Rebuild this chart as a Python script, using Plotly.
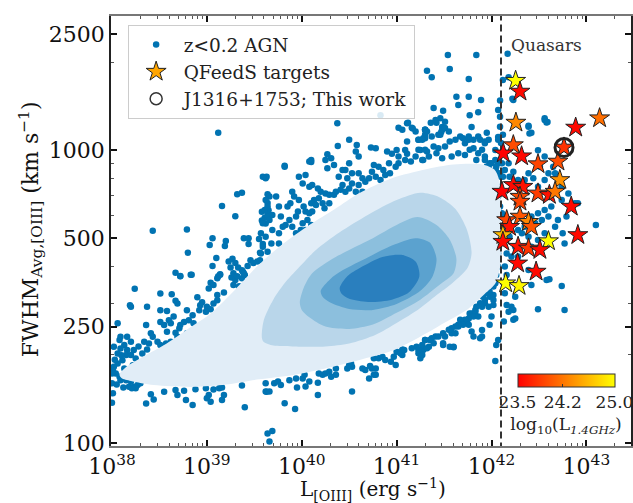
import numpy as np
import plotly.graph_objects as go

# ---------------- data (log10 L[OIII] in erg/s, log10 FWHM in km/s) ----------------
agn_left = [(38.06,2.409),(38.08,2.352),(38.13,2.335),(38.09,2.323),(38.16,2.318),(38.15,2.301),(38.20,2.301),
    (38.23,2.318),(38.25,2.289),(38.22,2.266),(38.11,2.283),(38.06,2.272),(38.02,2.261),(38.01,2.249),(38.04,2.238),
    (38.08,2.227),(38.09,2.215),(38.15,2.215),(38.20,2.21),(38.23,2.192),(38.27,2.198),(38.30,2.204),(38.25,2.187),
    (38.13,2.255),(38.18,2.249),(38.06,2.306),(38.02,2.329),(38.09,2.363),(38.20,2.346),(38.16,2.363),(38.00,2.238),
    (38.00,2.138),(38.01,2.17),(38.00,2.204),(38.05,2.20),(38.12,2.19),(38.03,2.285),(38.10,2.30),(38.28,2.33)]

agn_upper_left = [(38.67,2.582),(38.83,2.575),(38.72,2.571),(39.14,2.577),(39.11,2.563),(39.26,2.566),(39.30,2.557),
    (39.28,2.54),(39.34,2.536),(39.37,2.563),(39.40,2.574),(39.38,2.585),(39.04,2.548),(39.07,2.54),(39.02,2.528),
    (39.11,2.506),(39.18,2.514),(38.24,2.527),(38.51,2.511),(38.63,2.508),(38.67,2.486),(38.69,2.477),(38.90,2.498),
    (38.95,2.481),(39.00,2.466),(39.04,2.457),(38.93,2.471),(39.07,2.477),(39.11,2.488),(38.19,2.471),(38.20,2.466),
    (38.37,2.466),(38.51,2.454),(38.58,2.451),(38.65,2.432),(38.60,2.42),(38.51,2.414),(38.55,2.403),(38.62,2.409),
    (38.67,2.377),(38.58,2.38),(38.71,2.392),(38.76,2.414),(38.81,2.42),(38.85,2.437),(38.86,2.409),(38.88,2.397),
    (38.83,2.38),(38.79,2.375),(38.72,2.403),(38.36,2.403),(38.41,2.375),(38.34,2.346),(38.37,2.32),(38.32,2.306),
    (38.39,2.34),(38.43,2.363),(38.48,2.346),(38.51,2.335),(38.57,2.34),(38.62,2.346),(38.69,2.363),(38.92,2.454),
    (38.99,2.449),(38.79,2.454)]

agn_upper_mid = [(39.12,3.06),(39.62,2.905),(39.32,2.85),(39.37,2.855),(39.16,2.81),(39.30,2.775),(39.64,2.85),
    (39.64,2.82),(39.58,2.79),(39.61,2.77),(39.64,2.78),(39.62,2.75),(39.58,2.76),(39.65,2.795),(38.43,2.725),
    (38.79,2.73),(38.80,2.65),(39.06,2.70),(39.03,2.677),(39.20,2.69),(39.19,2.673),(39.10,2.632),(39.06,2.605),
    (39.39,2.70),(39.44,2.70),(39.44,2.68),(39.55,2.697),(39.59,2.68),(39.56,2.65),(39.23,2.62),(39.27,2.63),
    (39.30,2.615),(39.33,2.60),(39.37,2.59),(39.43,2.605),(39.46,2.625),(39.49,2.615),(39.53,2.62),(39.56,2.625),
    (39.25,2.60),(39.28,2.58),(39.32,2.57),(39.39,2.58),(39.14,2.575),(38.72,2.57),(38.84,2.575),(39.12,2.57),
    (39.82,2.947),(39.63,2.91),(40.10,2.96)]

agn_upper_band = [(40.375,3.093),(41.11,3.093),(41.06,3.07),(41.17,3.075),(41.30,3.07),(40.50,3.036),(40.38,3.015),
    (40.58,3.018),(40.57,2.996),(40.60,2.979),(40.73,3.01),(40.78,3.007),(41.11,3.03),(41.23,3.036),(41.28,3.041),
    (40.90,2.996),(40.95,2.988),(41.0,3.001),(41.02,2.979),(41.09,3.001),(41.11,2.988),(41.20,2.979),(41.25,3.001),
    (41.28,2.967),(41.32,2.996),(41.15,2.962),(41.09,2.967),(41.02,2.956),(40.27,2.987),(40.31,2.973),(40.25,2.967),
    (40.34,2.95),(40.27,2.939),(40.08,2.962),(40.10,2.967),(39.82,2.944),(40.46,2.933),(40.43,2.933),(40.50,2.956),
    (40.39,2.91),(40.48,2.905),(40.53,2.922),(40.60,2.922),(40.64,2.905),(40.67,2.893),(40.74,2.927),(40.76,2.95),
    (40.81,2.944),(40.86,2.933),(40.92,2.956),(40.93,2.922),(40.99,2.944),(40.88,2.916),(40.83,2.899),(40.78,2.91),
    (40.71,2.905),(40.60,2.882),(40.53,2.887),(40.50,2.87),(40.43,2.882),(40.57,2.859),(40.64,2.859),(39.97,2.91),
    (40.04,2.916),(40.01,2.887),(40.08,2.876),(40.11,2.882),(40.17,2.87),(40.20,2.859),(40.25,2.853),(40.29,2.848),
    (40.34,2.848),(40.18,2.836),(40.13,2.83),(40.10,2.819),(40.15,2.813),(40.22,2.819),(40.24,2.802),(40.29,2.819),
    (40.36,2.859),(40.41,2.865),(40.46,2.859),(39.90,2.859),(39.92,2.842),(39.88,2.819),(39.97,2.83),(40.02,2.808),
    (40.04,2.791),(39.96,2.791),(39.94,2.774),(39.85,2.808),(39.76,2.808),(39.73,2.842),(39.66,2.842),(39.62,2.83),
    (39.64,2.808),(39.61,2.796),(39.69,2.779),(39.78,2.774),(39.66,2.762),(39.59,2.751),(39.57,2.717),(39.62,2.705),
    (39.69,2.728),(39.76,2.717),(39.80,2.739),(39.83,2.745),(39.87,2.762),(39.90,2.739),(39.94,2.717),(39.99,2.728),
    (40.01,2.751),(40.06,2.762),(40.08,2.785),(40.11,2.791),(39.76,2.682),(39.68,2.682),(39.59,2.671),(39.57,2.648),
    (39.64,2.654),(39.97,2.70),(40.04,2.728),(40.10,2.745),(39.59,2.91),(41.30,3.053),(41.32,3.064),(41.20,3.064)]

agn_upper_right = [(41.54,3.326),(41.84,3.326),(42.17,3.33),(41.32,3.272),(41.56,3.278),(41.37,3.25),(41.76,3.244),
    (41.63,3.183),(41.76,3.183),(41.89,3.172),(40.83,3.12),(41.39,3.145),(41.49,3.135),(41.65,3.155),(41.77,3.12),
    (41.86,3.13),(42.07,3.138),(41.02,3.077),(41.12,3.094),(41.16,3.077),(41.30,3.07),(41.36,3.094),(41.42,3.094),
    (41.48,3.08),(41.47,3.063),(41.46,3.053),(41.79,3.08),(41.95,3.06),(42.07,3.046),(42.10,3.025),(42.09,3.17),
    (41.23,3.036),(41.30,3.041),(41.37,3.047),(41.44,3.053),(41.48,3.07),(41.51,3.076),(41.55,3.064),(41.41,3.104),
    (41.46,3.11),(41.51,3.098),(41.30,3.07),(41.27,3.036),(41.23,3.002),(41.30,3.002),(41.39,3.013),(41.44,3.007),
    (41.51,3.013),(41.56,3.03),(41.62,3.036),(41.67,3.047),(41.70,3.041),(41.72,3.024),(41.76,3.036),(41.81,3.036),
    (41.86,3.047),(41.88,3.036),(41.93,3.03),(41.97,3.036),(41.76,3.047),(41.81,3.007),(41.86,2.99),(41.93,2.979),
    (41.98,2.956),(42.04,2.967),(42.07,2.956),(42.05,2.927),(42.07,3.036),(42.09,3.115),(42.09,3.081),(42.11,2.956),
    (42.09,2.922),(42.12,2.91),(42.04,2.899),(42.07,2.876),(42.05,2.842),(42.09,2.808),(42.07,2.785),(42.11,2.74),
    (42.09,2.694),(42.07,2.648),(41.27,2.967),(41.34,2.979),(41.42,2.99),(41.48,2.973),(41.58,2.979),(41.65,2.99),
    (41.72,2.984),(41.77,3.002),(41.90,3.002),(41.84,2.967),(41.95,2.945),(42.0,2.922)]

agn_quasar = [(42.12,3.24),(42.23,3.172),(42.39,3.081),(42.40,3.058),(42.56,3.104),(42.58,3.095),(42.49,3.0),
    (42.56,2.979),(42.51,2.944),(42.12,3.053),(41.93,3.024),(42.04,3.001),(41.93,2.967),(42.0,2.956),(41.97,2.944),
    (42.05,2.944),(42.14,2.933),(42.18,2.956),(42.23,2.927),(42.19,2.91),(42.28,2.899),(42.35,2.899),(42.39,2.922),
    (42.44,2.905),(42.49,2.876),(42.56,2.899),(42.60,2.922),(42.65,2.944),(42.67,2.922),(42.74,2.876),(42.81,2.853),
    (42.74,2.83),(42.63,2.808),(42.56,2.796),(42.49,2.785),(42.42,2.774),(42.53,2.762),(42.46,2.751),(42.35,2.739),
    (42.28,2.728),(42.32,2.717),(42.39,2.705),(42.19,2.705),(42.25,2.671),(42.16,2.648),(42.21,2.637),(42.28,2.637),
    (42.42,2.671),(42.49,2.694),(42.56,2.717),(42.67,2.739),(42.77,2.682),(42.88,2.819),(42.91,2.819),(43.10,2.745),
    (42.79,2.774),(42.70,2.762),(42.60,2.774),(42.04,2.887),(42.07,2.91),(41.98,2.916),(42.04,2.933),(42.07,2.842),
    (42.07,2.808),(42.11,2.785),(42.14,2.774),(42.05,2.739),(42.04,2.717),(42.14,2.717),(42.75,2.717),
    (42.39,3.084),(42.42,3.06),(42.56,3.11),(42.59,3.097),(42.18,3.25),(42.22,3.176),
    (42.07,2.603),(42.05,2.574),(42.04,2.546),(42.14,2.603),(42.16,2.574),(42.39,2.591),(42.42,2.54),(42.58,2.557),
    (42.61,2.56),(42.74,2.537),(42.49,2.457),(42.77,2.455),(42.14,2.512),(42.16,2.472),(42.21,2.466),(42.23,2.455),
    (42.25,2.5),(42.18,2.449),(42.13,2.415),(42.23,2.421),(42.25,2.426),(42.05,2.335),(42.04,2.28),(42.07,2.352)]

agn_lower = [(38.36,2.135),(38.41,2.167),(38.44,2.149),(38.55,2.175),(38.67,2.181),(38.69,2.164),(38.76,2.179),
    (38.78,2.147),(38.85,2.13),(38.88,2.184),(38.99,2.187),(39.02,2.164),(39.00,2.153),(39.04,2.141),(39.07,2.183),
    (39.13,2.187),(39.16,2.19),(39.18,2.164),(39.16,2.147),(39.37,2.197),(39.40,2.122),(39.62,2.204),(39.63,2.175),
    (39.64,2.033),(39.69,2.041),(39.66,2.005),(38.18,2.192),(38.21,2.187),
    (39.62,2.176),(39.66,2.176),(39.71,2.204),(39.75,2.21),(39.78,2.198),(39.87,2.215),(39.94,2.221),(39.95,2.19),
    (40.01,2.221),(40.03,2.233),(40.04,2.193),(40.08,2.21),(40.17,2.206),(40.17,2.164),(40.18,2.238),(40.22,2.233),
    (40.25,2.238),(40.29,2.244),(40.31,2.227),(40.36,2.233),(40.36,2.255),(40.48,2.255),(40.50,2.267),(40.53,2.261),
    (40.53,2.176),(40.64,2.255),(40.67,2.25),(40.71,2.221),(40.74,2.255),(40.78,2.255),(40.78,2.233),(40.76,2.29),
    (40.81,2.29),(40.85,2.295),(40.94,2.278),(40.97,2.295),(40.99,2.267),(41.0,2.312),(41.06,2.32),(41.06,2.301),
    (41.16,2.324),(41.21,2.329),(41.23,2.307),(41.25,2.29),(41.27,2.324),(41.30,2.352),(39.82,2.136),(39.93,2.116),
    (40.52,2.272),(40.72,2.263),(40.76,2.233),(40.88,2.284),(41.04,2.307),(41.08,2.318),(41.28,2.318),(41.34,2.329),
    (41.35,2.352),(41.41,2.364),(41.49,2.341),(41.51,2.364),(41.58,2.375),(41.60,2.329),(41.65,2.398),(41.69,2.415),
    (41.74,2.415),(41.79,2.443),(41.83,2.455),(41.90,2.466),(41.93,2.489),(41.98,2.50),(42.02,2.506),(41.90,2.364),
    (42.02,2.535),(41.98,2.517),(41.93,2.512),(41.91,2.50),(42.02,2.489),(41.93,2.478),(41.88,2.478),(41.84,2.466),
    (41.97,2.466),(42.02,2.472),(41.83,2.449),(41.77,2.443),(41.81,2.432),(41.86,2.432),(41.76,2.426),(41.72,2.421),
    (41.67,2.421),(41.70,2.404),(41.76,2.404),(41.79,2.381),(41.65,2.404),(41.62,2.398),(41.58,2.392),(41.55,2.387),
    (41.62,2.375),(41.49,2.375),(41.44,2.364),(41.37,2.358),(41.39,2.341),(41.30,2.352),(41.27,2.335),(41.32,2.324),
    (41.23,2.318),(41.27,2.301),(41.88,2.358),(41.90,2.386),(41.49,2.335),(41.56,2.329),(41.60,2.327),(41.81,2.364),
    (41.98,2.404),(42.0,2.432)]

# QFeedS targets: log10 L[OIII], log10 FWHM, log10 L_1.4GHz
qso_logL = [42.254,42.30,42.257,43.139,42.887,42.764,42.23,42.124,42.317,42.49,42.70,42.72,42.11,42.23,42.33,
    42.30,42.49,42.61,42.67,42.30,42.84,42.16,42.30,42.39,42.42,42.19,42.12,42.12,42.60,42.91,42.28,42.39,42.51,
    42.275,42.47,42.149,42.29]
qso_logFWHM = [3.238,3.201,3.095,3.110,3.078,3.01,3.018,2.99,2.98,2.953,2.962,2.899,2.859,2.882,2.876,2.842,2.853,
    2.848,2.859,2.825,2.808,2.762,2.774,2.756,2.739,2.739,2.711,2.688,2.69,2.711,2.671,2.665,2.66,2.614,2.586,
    2.546,2.537]
qso_logL14 = [25.0,23.55,24.3,24.15,23.55,23.8,23.95,23.5,23.55,23.9,23.95,24.35,23.5,23.55,23.6,23.95,23.85,23.6,
    24.2,23.9,23.55,23.9,24.0,24.3,24.0,23.6,24.6,23.55,25.0,23.55,23.6,23.8,23.55,23.55,23.55,25.0,24.95]

this_work_logL = [42.764]
this_work_logFWHM = [3.01]

quasar_limit_logL = 42.1

# KDE contour outlines (log10 L, log10 FWHM)
contour_1 = [(38.08,2.235),(38.15,2.26),(38.3,2.29),(38.55,2.335),(38.8,2.39),(39.04,2.443),(39.3,2.525),
    (39.55,2.61),(39.8,2.68),(40.08,2.745),(40.35,2.80),(40.6,2.853),(40.95,2.905),(41.3,2.935),(41.6,2.952),
    (41.9,2.952),(42.03,2.935),(42.08,2.9),(42.1,2.8),(42.1,2.7),(42.09,2.6),(42.04,2.545),(41.93,2.51),
    (41.76,2.46),(41.5,2.41),(41.23,2.36),(40.95,2.315),(40.6,2.283),(40.25,2.255),(39.9,2.232),(39.55,2.218),
    (39.2,2.2),(38.86,2.192),(38.44,2.198),(38.2,2.212),(38.1,2.222)]
contour_2 = [(39.58,2.36),(39.6,2.42),(39.7,2.49),(39.83,2.55),(40.0,2.61),(40.15,2.66),(40.4,2.72),(40.7,2.78),
    (41.0,2.83),(41.25,2.855),(41.45,2.84),(41.62,2.8),(41.74,2.73),(41.79,2.65),(41.75,2.6),(41.6,2.55),
    (41.4,2.5),(41.2,2.45),(41.0,2.41),(40.78,2.37),(40.5,2.34),(40.25,2.33),(39.9,2.33),(39.7,2.333),(39.6,2.345)]
contour_3 = [(39.98,2.48),(40.02,2.53),(40.11,2.58),(40.3,2.625),(40.5,2.66),(40.75,2.7),(41.0,2.745),(41.22,2.772),
    (41.42,2.745),(41.56,2.695),(41.63,2.63),(41.6,2.58),(41.45,2.54),(41.25,2.49),(41.0,2.445),(40.75,2.405),
    (40.5,2.39),(40.25,2.398),(40.08,2.43),(40.0,2.455)]
contour_4 = [(40.2,2.52),(40.3,2.56),(40.43,2.59),(40.7,2.635),(40.95,2.675),(41.2,2.7),(41.35,2.685),(41.42,2.63),
    (41.38,2.57),(41.25,2.52),(41.0,2.475),(40.75,2.455),(40.5,2.458),(40.3,2.48),(40.22,2.5)]
contour_5 = [(40.4,2.53),(40.48,2.57),(40.62,2.6),(40.85,2.636),(41.05,2.643),(41.2,2.62),(41.24,2.57),
    (41.13,2.515),(40.95,2.49),(40.7,2.482),(40.5,2.493),(40.42,2.51)]

x_tick_exponents = [38, 39, 40, 41, 42, 43]
y_tick_values = [100, 250, 500, 1000, 2500]
cbar_ticks = [23.5, 24.2, 25.0]

# ---------------- figure ----------------
SERIF = "DejaVu Serif"
AGN_BLUE = "#0173b2"
contour_colors = ["#e1edf7", "#b9d6ea", "#8cbfdd", "#5ba2cf", "#2a7fbe"]

fig = go.Figure()

agn_all = agn_left + agn_upper_left + agn_upper_mid + agn_upper_band + agn_upper_right + agn_quasar + agn_lower
ax = 10 ** np.array([p[0] for p in agn_all])
ay = 10 ** np.array([p[1] for p in agn_all])
fig.add_trace(go.Scatter(x=ax, y=ay, mode="markers", showlegend=False, hoverinfo="skip",
                         marker=dict(color=AGN_BLUE, size=6.5, line=dict(width=0))))

for poly, col in zip([contour_1, contour_2, contour_3, contour_4, contour_5], contour_colors):
    px_ = [p[0] for p in poly] + [poly[0][0]]
    py_ = [p[1] for p in poly] + [poly[0][1]]
    fig.add_trace(go.Scatter(x=10 ** np.array(px_), y=10 ** np.array(py_), mode="lines", fill="toself",
                             fillcolor=col, line=dict(width=0, color=col, shape="spline", smoothing=0.8),
                             showlegend=False, hoverinfo="skip"))

# quasar threshold
fig.add_trace(go.Scatter(x=[10 ** quasar_limit_logL] * 2, y=[80, 4000], mode="lines", showlegend=False,
                         line=dict(color="#333333", width=2, dash="7px,4px"), hoverinfo="skip"))

autumn = [[0, "rgb(255,0,0)"], [1, "rgb(255,255,0)"]]
fig.add_trace(go.Scatter(
    x=10 ** np.array(qso_logL), y=10 ** np.array(qso_logFWHM), mode="markers", showlegend=False,
    marker=dict(symbol="star", size=15, color=qso_logL14, colorscale=autumn, cmin=23.5, cmax=25.0,
                line=dict(color="#222222", width=1),
                colorbar=dict(orientation="h", x=0.875, xanchor="center", y=0.1674, yanchor="top",
                              len=0.186, lenmode="fraction", thickness=13, xpad=0, ypad=0,
                              outlinewidth=1, outlinecolor="#333333",
                              tickvals=cbar_ticks, ticktext=["23.5", "24.2", "25.0"],
                              ticks="inside", ticklen=3, tickcolor="#333333", ticklabeloverflow="allow",
                              tickfont=dict(family=SERIF, size=17, color="#222222"),
                              title=dict(text="log<sub>10</sub>(L<sub><i>1.4GHz</i></sub>)", side="bottom",
                                         font=dict(family=SERIF, size=17, color="#222222"))))))

fig.add_trace(go.Scatter(x=10 ** np.array(this_work_logL), y=10 ** np.array(this_work_logFWHM), mode="markers",
                         showlegend=False,
                         marker=dict(symbol="circle-open", size=18, color="#222222", line=dict(width=3))))

# legend proxies
fig.add_trace(go.Scatter(x=[None], y=[None], mode="markers", name="z<0.2 AGN", legendgroup="a",
                         marker=dict(color=AGN_BLUE, size=6.5)))
fig.add_trace(go.Scatter(x=[None], y=[None], mode="markers", name="QFeedS targets", legendgroup="b",
                         marker=dict(symbol="star", color="orange", size=15, line=dict(color="#222222", width=1))))
fig.add_trace(go.Scatter(x=[None], y=[None], mode="markers", name="J1316+1753; This work", legendgroup="c",
                         marker=dict(symbol="circle-open", color="#333333", size=12, line=dict(width=1.5))))

x_minor = [m * 10.0 ** e for e in range(37, 44) for m in range(2, 10)]
y_minor = [200, 300, 400, 600, 700, 800, 900, 2000]

fig.update_xaxes(type="log", range=[37.99, 43.47],
                 tickvals=[10.0 ** e for e in x_tick_exponents],
                 ticktext=[f"10<sup>{e}</sup>" for e in x_tick_exponents],
                 ticks="inside", ticklen=6, tickwidth=2, tickcolor="#111111",
                 minor=dict(tickvals=x_minor, ticks="inside", ticklen=3, tickwidth=1, tickcolor="#555555"),
                 showline=True, linecolor="#777777", linewidth=1.5, mirror="allticks",
                 showgrid=False, zeroline=False,
                 tickfont=dict(family=SERIF, size=22, color="#111111"))
fig.update_yaxes(type="log", range=[1.99, 3.459],
                 tickvals=y_tick_values, ticktext=[str(v) for v in y_tick_values],
                 ticks="inside", ticklen=6, tickwidth=2, tickcolor="#111111",
                 minor=dict(tickvals=y_minor, ticks="inside", ticklen=3, tickwidth=1, tickcolor="#555555"),
                 showline=True, linecolor="#222222", linewidth=1.5, mirror="allticks",
                 showgrid=False, zeroline=False,
                 tickfont=dict(family=SERIF, size=22, color="#111111"))

fig.update_layout(
    width=633, height=503,
    margin=dict(l=111, r=0, t=16, b=57),
    paper_bgcolor="white", plot_bgcolor="white",
    font=dict(family=SERIF, color="#222222"),
    legend=dict(x=0.032, y=0.979, xanchor="left", yanchor="top", bgcolor="rgba(255,255,255,0.85)",
                bordercolor="#cccccc", borderwidth=1, font=dict(family=SERIF, size=18.5, color="#222222"),
                tracegroupgap=0, traceorder="grouped", itemwidth=45),
    annotations=[
        dict(text="Quasars", xref="paper", yref="paper", x=0.766, y=0.9326, xanchor="left", yanchor="middle",
             showarrow=False, font=dict(family=SERIF, size=17, color="#333333")),
        dict(text="L<sub>[OIII]</sub> (erg s<sup>\u22121</sup>)", xref="paper", yref="paper", x=0.504, y=-0.101,
             xanchor="center", yanchor="middle", showarrow=False,
             font=dict(family=SERIF, size=20, color="#111111")),
        dict(text="FWHM<sub>Avg,[OIII]</sub> (km s<sup>\u22121</sup>)", xref="paper", yref="paper", x=-0.155,
             y=0.505, xanchor="center", yanchor="middle", textangle=-90, showarrow=False,
             font=dict(family=SERIF, size=22, color="#111111")),
    ],
)

fig.write_html("out.html", config={"displayModeBar": False},
               post_script="document.body.style.margin='0px';")
